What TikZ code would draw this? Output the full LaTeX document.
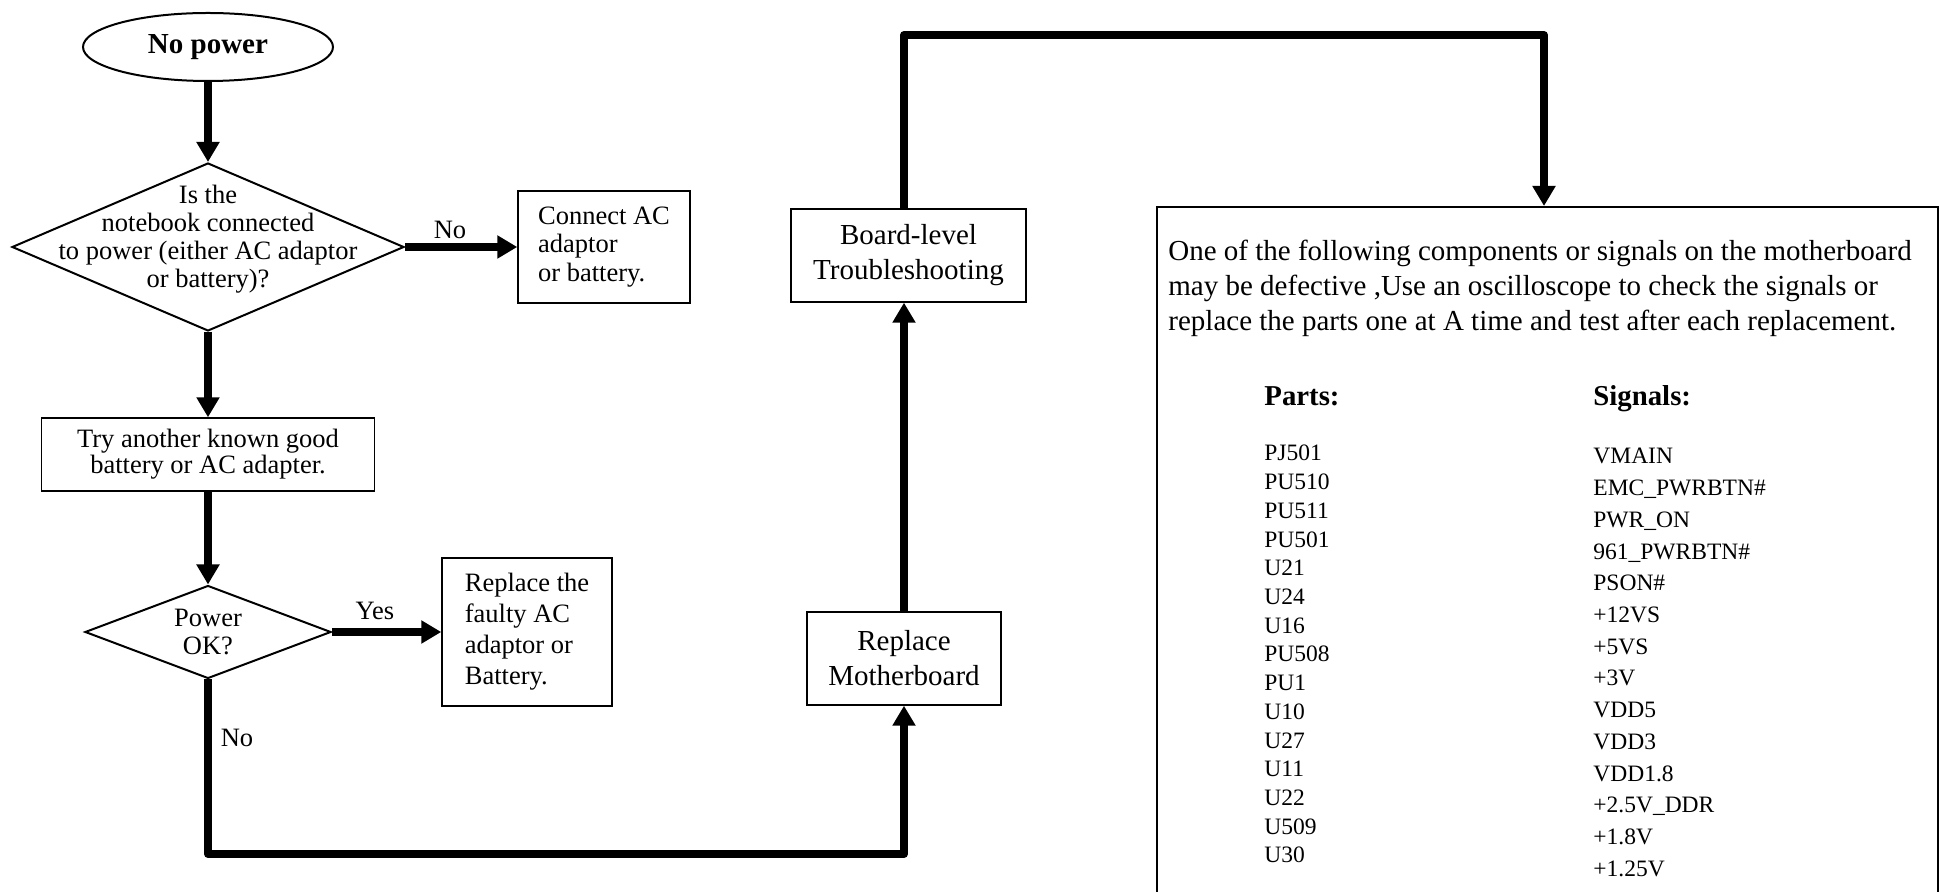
\documentclass[tikz,border=0pt]{standalone}
\usepackage{fontspec}
\setmainfont{Liberation Serif}
\usetikzlibrary{shapes.geometric,arrows.meta}
\begin{document}
\begin{tikzpicture}[x=.5pt,y=-.5pt,
    box/.style={draw,line width=.7pt,inner sep=0pt,align=center,font=\fontsize{13.25}{14}\selectfont},
    decision/.style={draw,diamond,line width=1pt,inner sep=0pt},
    flow/.style={line width=4pt,line join=round,>={Triangle[length=10pt,width=11pt]}},
    tag/.style={inner sep=0pt,font=\fontsize{13.25}{14}\selectfont},
    part/.style={anchor=base west,inner sep=0pt,font=\fontsize{11.75}{14}\selectfont}]
\useasboundingbox (0,0) rectangle (1939,892);
\clip (0,0) rectangle (1939,892);
\node[draw,ellipse,line width=1pt,minimum width=125pt,minimum height=34pt,font=\fontsize{14.5}{17}\selectfont\bfseries] at (208,47)(start){No power};
\node[decision,minimum width=196pt,minimum height=84pt,label={[tag,align=center,yshift=4pt]center:Is the\\notebook connected\\to power (either AC adaptor\\or battery)?}] at (208,247)(q1){};
\node[box,minimum width=86pt,minimum height=56pt,align=left,font=\fontsize{13.25}{14.25}\selectfont] at (604,247)(connect){Connect AC\\adaptor\\or battery.};
\node[box,minimum width=166.5pt,minimum height=36.5pt,font=\fontsize{13.25}{13}\selectfont] at (208,454.5)(try){Try another known good\\battery or AC adapter.};
\node[decision,minimum width=123pt,minimum height=46.5pt,label={[tag,align=center]center:Power\\OK?}] at (208,632)(q2){};
\node[box,minimum width=85pt,minimum height=74pt,align=left,font=\fontsize{13.25}{15.5}\selectfont] at (527,632)(faulty){Replace the\\faulty AC\\adaptor or\\Battery.};
\node[box,minimum width=97pt,minimum height=46.5pt,font=\fontsize{14.5}{17.5}\selectfont] at (904,658.5)(mb){Replace\\Motherboard};
\node[box,minimum width=117.5pt,minimum height=46.5pt,font=\fontsize{14.5}{17.5}\selectfont] at (908.5,255.5)(board){Board-level\\Troubleshooting};
\node[draw,line width=1pt,minimum width=390.5pt,minimum height=371.5pt,inner sep=0pt] at (1547.5,578.5)(info){};
\node[anchor=north west,inner sep=0pt,align=left,font=\fontsize{14.5}{17.5}\selectfont] at (1168,240)(note){One of the following components or signals on the motherboard\\may be defective ,Use an oscilloscope to check the signals or\\replace the parts one at A time and test after each replacement.};
\node[part,font=\fontsize{14.4}{17}\selectfont\bfseries] at (1264,406)(partsHead){Parts:};
\node[part,font=\fontsize{14.4}{17}\selectfont\bfseries] at (1593,406)(signalsHead){Signals:};
\foreach \p [count=\i] in {PJ501,PU510,PU511,PU501,U21,U24,U16,PU508,PU1,U10,U27,U11,U22,U509,U30}
    \node[part] at (1264,{461+28.7*(\i-1)})(part\i){\p};
\foreach \s [count=\i] in {VMAIN,EMC\_PWRBTN\#,PWR\_ON,961\_PWRBTN\#,PSON\#,+12VS,+5VS,+3V,VDD5,VDD3,VDD1.8,+2.5V\_DDR,+1.8V,+1.25V}
    \node[part] at (1593,{464+31.7*(\i-1)})(sig\i){\s};
\node[tag] at (450,230)(noA){No};
\node[tag] at (375,611)(yes){Yes};
\node[tag] at (237,738)(noB){No};
\coordinate (bot) at (904,854);
\coordinate (top) at (1544,35);
\draw[flow,->] (start) -- (q1);
\draw[flow,->] (q1) -- (connect);
\draw[flow,->] (q1) -- (try);
\draw[flow,->] (try) -- (q2);
\draw[flow,->] (q2) -- (faulty);
\draw[flow,->] (q2.south) |- (bot) -- (mb.south);
\draw[flow,->] (mb) -- (mb.north |- board.south);
\draw[flow,->] (mb.north |- board.north) |- (top) -- (top |- info.north);
\end{tikzpicture}
\end{document}
